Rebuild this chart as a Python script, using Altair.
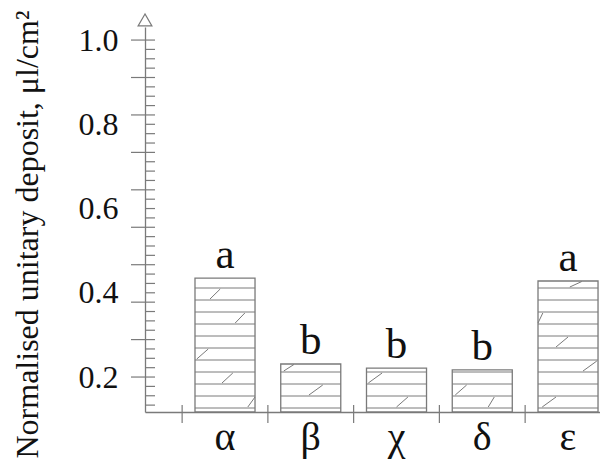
import altair as alt
import pandas as pd

# ---- data ----
categories = ["α", "β", "χ", "δ", "ε"]
positions = [1, 2, 3, 4, 5]
values = [0.435, 0.231, 0.221, 0.217, 0.428]
letters = ["a", "b", "b", "b", "a"]
y_label_values = [0.2, 0.4, 0.6, 0.8, 1.0]

# ---- layout / style constants ----
X0, X1 = 0.067, 5.373
Y0, Y1 = 0.117, 1.031
W, H = 455, 385
PPU = H / (Y1 - Y0)          # pixels per y unit
HALF = 0.35                  # half bar width in x units
GRAY = "#7a7a7a"
FONT = "Liberation Serif"

bars = pd.DataFrame({
    "cat": categories, "pos": positions, "val": values, "let": letters,
})
bars["x0"] = bars["pos"] - HALF
bars["x1"] = bars["pos"] + HALF
bars["base"] = Y0

# hatch lines (decoration): every 12 px from 4 px above the base
hatch_rows = []
for p, v in zip(positions, values):
    h = (v - Y0) * PPU
    k = 0
    while 4 + 12 * k <= h - 2:
        hatch_rows.append({"x0": p - HALF, "x1": p + HALF,
                           "y": Y0 + (4 + 12 * k) / PPU})
        k += 1
hatch = pd.DataFrame(hatch_rows)

# small slanted dashes inside bars (decoration)
dash_spec = [
    (0, 9, .25, .42), (0, 7, .67, .83), (0, 4, .03, .22), (0, 2, .45, .63), (0, 0, .88, 1.0),
    (1, 3, .05, .22), (1, 1, .47, .70),
    (2, 2, .03, .26), (2, 0, .50, .69),
    (3, 1, .05, .24), (3, 0, .60, .70),
    (4, 10, .53, .73), (4, 7, .0, .08), (4, 5, .30, .50), (4, 3, .75, .98), (4, 0, .07, .30),
]
dash_rows = []
for b, r, f0, f1 in dash_spec:
    p, v = positions[b], values[b]
    h = (v - Y0) * PPU
    lo = 4 + 12 * r + 1
    hi = min(4 + 12 * r + 11, h - 0.5)
    dash_rows.append({"x0": p - HALF + f0 * 2 * HALF, "x1": p - HALF + f1 * 2 * HALF,
                      "y0": Y0 + lo / PPU, "y1": Y0 + hi / PPU})
dashes = pd.DataFrame(dash_rows)

# y-axis tick marks: 9 major divisions between 0.2 and 1.0, 4 minor each
step = 0.8 / 36
yt = []
for k in range(-3, 37):
    yt.append({"y": 0.2 + k * step, "major": k % 4 == 0})
yticks = pd.DataFrame(yt)
major = yticks[yticks["major"]]
minor = yticks[~yticks["major"]]

xticks = pd.DataFrame({"x": [p - 0.5 for p in positions]})

xs = alt.Scale(domain=[X0, X1], nice=False, zero=False)
ys = alt.Scale(domain=[Y0, Y1], nice=False, zero=False)

base_bars = alt.Chart(bars).mark_bar(fill="white", stroke=GRAY, strokeWidth=1.3).encode(
    x=alt.X("x0:Q", scale=xs,
            axis=alt.Axis(title=None, labels=False, ticks=False, grid=False,
                          domainColor=GRAY, domainWidth=1.3)),
    x2="x1:Q",
    y=alt.Y("val:Q", scale=ys,
            axis=alt.Axis(title="Normalised unitary deposit, μl/cm²",
                          values=y_label_values, format=".1f",
                          ticks=False, tickSize=0, grid=False,
                          domainColor=GRAY, domainWidth=1.3,
                          labelFont=FONT, labelFontSize=32, labelColor="#111",
                          labelPadding=27,
                          titleFont=FONT, titleFontSize=32, titleFontWeight="normal",
                          titleColor="#111", titleX=-108, titleY=207,
                          titleAlign="center", titleBaseline="alphabetic", titleAngle=270)),
    y2="base:Q",
)

hatch_layer = alt.Chart(hatch).mark_rule(color=GRAY, strokeWidth=1).encode(
    x=alt.X("x0:Q", axis=None), x2="x1:Q", y=alt.Y("y:Q", axis=None),
)

dash_layer = alt.Chart(dashes).mark_rule(color=GRAY, strokeWidth=1).encode(
    x=alt.X("x0:Q", axis=None), x2="x1:Q",
    y=alt.Y("y0:Q", axis=None), y2="y1:Q",
)

letter_layer = alt.Chart(bars).mark_text(
    font=FONT, fontSize=43, color="#111", baseline="alphabetic", dy=-10,
).encode(
    x=alt.X("pos:Q", axis=None), y=alt.Y("val:Q", axis=None), text="let:N",
)

cat_layer = alt.Chart(bars).mark_text(
    font=FONT, fontSize=40, color="#111", baseline="middle",
).encode(
    x=alt.X("pos:Q", axis=None), y=alt.value(H + 26), text="cat:N",
)

major_layer = alt.Chart(major).mark_rule(color=GRAY, strokeWidth=1.2).encode(
    y=alt.Y("y:Q", axis=None), x=alt.value(-14), x2=alt.value(10),
)
minor_layer = alt.Chart(minor).mark_rule(color=GRAY, strokeWidth=1.2).encode(
    y=alt.Y("y:Q", axis=None), x=alt.value(0), x2=alt.value(10),
)
xtick_layer = alt.Chart(xticks).mark_rule(color=GRAY, strokeWidth=1.2).encode(
    x=alt.X("x:Q", axis=None), y=alt.value(H - 7), y2=alt.value(H + 11),
)

arrow = alt.Chart(pd.DataFrame({"x": [X0], "y": [Y1]})).mark_point(
    shape="triangle-up", size=190, filled=True, fill="white", stroke=GRAY,
    strokeWidth=1.2, yOffset=-7, opacity=1,
).encode(x=alt.X("x:Q", axis=None), y=alt.Y("y:Q", axis=None))

chart = alt.layer(
    base_bars, hatch_layer, dash_layer, letter_layer, cat_layer,
    major_layer, minor_layer, xtick_layer, arrow,
).resolve_axis(x="independent", y="independent").properties(
    width=W, height=H,
    padding={"left": 137, "top": 19, "right": 0, "bottom": 50},
    autosize=alt.AutoSizeParams(type="none"),
).configure(background="white").configure_view(stroke=None, strokeWidth=0)

chart.save("out.html", embed_options={"renderer": "svg", "actions": False})
